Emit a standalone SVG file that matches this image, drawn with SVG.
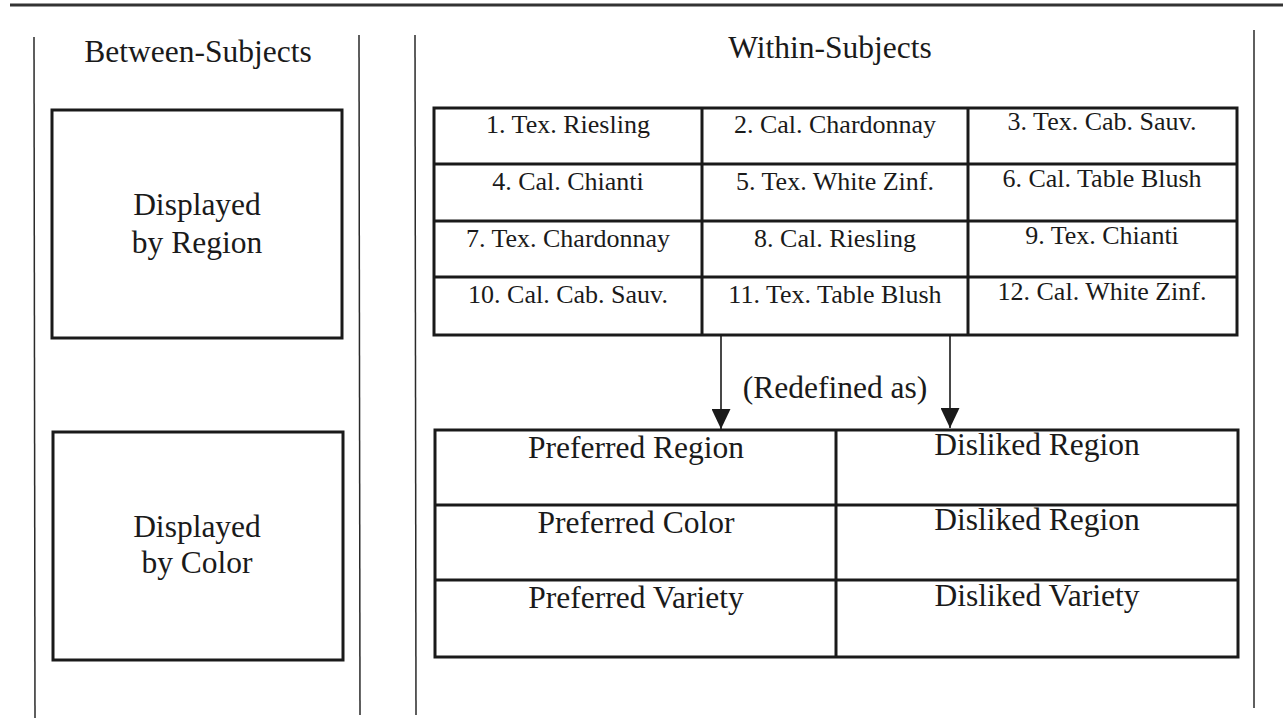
<svg xmlns="http://www.w3.org/2000/svg" width="1283" height="727" viewBox="0 0 1283 727">
<defs>
<style>
.t{font-family:"Liberation Serif","Times New Roman",serif;fill:#1a1a1a;text-anchor:middle}
.big{font-size:31.5px}
.cell{font-size:26px}
.box{fill:none;stroke:#1a1a1a;stroke-width:3}
.grid{stroke:#1a1a1a;stroke-width:3}
.sep{stroke:#2a2a2a;stroke-width:1.5}
.conn{stroke:#1a1a1a;stroke-width:1.6;fill:none}
</style>
<marker id="ah" viewBox="0 0 20 19" refX="20" refY="9.5" markerWidth="20" markerHeight="19" markerUnits="userSpaceOnUse" orient="auto">
<path d="M0,0 L20,9.5 L0,19 Z" fill="#1a1a1a"/>
</marker>
</defs>
<rect width="1283" height="727" fill="#fff"/>
<g id="frame">
<line x1="10" y1="5" x2="1283" y2="5" stroke="#333" stroke-width="3"/>
<line class="sep" x1="34" y1="37" x2="35" y2="718"/>
<line class="sep" x1="359" y1="35" x2="360" y2="715"/>
<line class="sep" x1="415" y1="35" x2="416" y2="715"/>
<line class="sep" x1="1254" y1="30" x2="1254" y2="708"/>
</g>
<g id="between-title"><text class="t big" x="198" y="62">Between-Subjects</text></g>
<g id="within-title"><text class="t big" x="830" y="58">Within-Subjects</text></g>
<g id="region-box">
<rect class="box" x="52" y="110" width="290" height="228"/>
<text class="t big" x="197" y="215">Displayed</text>
<text class="t big" x="197" y="253">by Region</text>
</g>
<g id="color-box">
<rect class="box" x="53" y="432" width="290" height="228"/>
<text class="t big" x="197" y="537">Displayed</text>
<text class="t big" x="197" y="573">by Color</text>
</g>
<g id="wine-grid">
<rect class="box" x="434" y="108" width="803" height="227"/>
<line class="grid" x1="702" y1="108" x2="702" y2="335"/>
<line class="grid" x1="968" y1="108" x2="968" y2="335"/>
<line class="grid" x1="434" y1="164" x2="1237" y2="164"/>
<line class="grid" x1="434" y1="221" x2="1237" y2="221"/>
<line class="grid" x1="434" y1="277" x2="1237" y2="277"/>
<text class="t cell" x="568" y="133">1. Tex. Riesling</text>
<text class="t cell" x="835" y="133">2. Cal. Chardonnay</text>
<text class="t cell" x="1102" y="130">3. Tex. Cab. Sauv.</text>
<text class="t cell" x="568" y="190">4. Cal. Chianti</text>
<text class="t cell" x="835" y="190">5. Tex. White Zinf.</text>
<text class="t cell" x="1102" y="187">6. Cal. Table Blush</text>
<text class="t cell" x="568" y="247">7. Tex. Chardonnay</text>
<text class="t cell" x="835" y="247">8. Cal. Riesling</text>
<text class="t cell" x="1102" y="244">9. Tex. Chianti</text>
<text class="t cell" x="568" y="303">10. Cal. Cab. Sauv.</text>
<text class="t cell" x="835" y="303">11. Tex. Table Blush</text>
<text class="t cell" x="1102" y="300">12. Cal. White Zinf.</text>
</g>
<g id="connectors">
<line class="conn" x1="721" y1="335" x2="721" y2="429" marker-end="url(#ah)"/>
<line class="conn" x1="950" y1="335" x2="950" y2="428" marker-end="url(#ah)"/>
</g>
<g id="redefined-label"><text class="t big" x="835" y="398">(Redefined as)</text></g>
<g id="pref-grid">
<rect class="box" x="435" y="430" width="803" height="227"/>
<line class="grid" x1="836" y1="430" x2="836" y2="657"/>
<line class="grid" x1="435" y1="505" x2="1238" y2="505"/>
<line class="grid" x1="435" y1="580" x2="1238" y2="580"/>
<text class="t big" x="636" y="458">Preferred Region</text>
<text class="t big" x="1037" y="455">Disliked Region</text>
<text class="t big" x="636" y="533">Preferred Color</text>
<text class="t big" x="1037" y="530">Disliked Region</text>
<text class="t big" x="636" y="608">Preferred Variety</text>
<text class="t big" x="1037" y="606">Disliked Variety</text>
</g>
</svg>
